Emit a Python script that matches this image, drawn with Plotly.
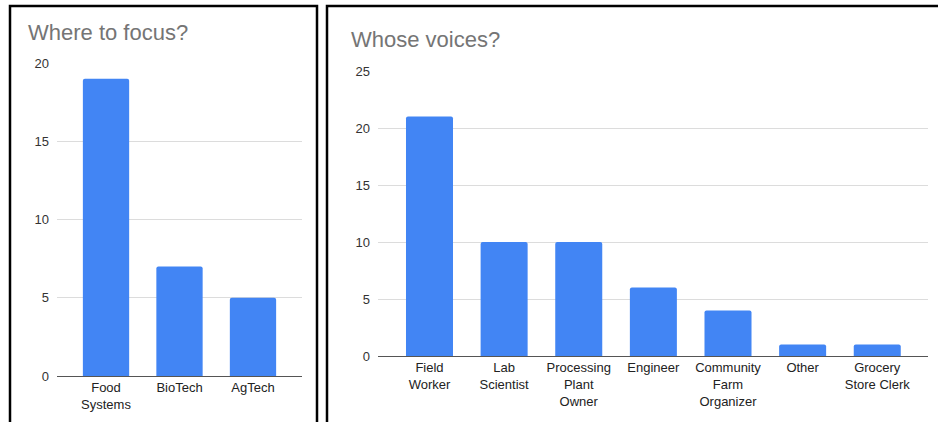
import plotly.graph_objects as go

W, H = 938, 422

focus_categories = ["Food<br>Systems", "BioTech", "AgTech"]
focus_values = [19, 7, 5]
focus_ticks = [0, 5, 10, 15, 20]

voice_categories = ["Field<br>Worker", "Lab<br>Scientist", "Processing<br>Plant<br>Owner",
                    "Engineer", "Community<br>Farm<br>Organizer", "Other",
                    "Grocery<br>Store Clerk"]
voice_values = [21, 10, 10, 6, 4, 1, 1]
voice_ticks = [0, 5, 10, 15, 20, 25]

BLUE = "#4285F4"

def px(x):
    return x / W

def py(y):
    return 1 - y / H

fig = go.Figure()
fig.add_trace(go.Bar(x=list(range(len(focus_values))), y=focus_values,
                     marker=dict(color=BLUE, cornerradius=2, line_width=0),
                     xaxis="x", yaxis="y", hoverinfo="skip"))
fig.add_trace(go.Bar(x=list(range(len(voice_values))), y=voice_values,
                     marker=dict(color=BLUE, cornerradius=2, line_width=0),
                     xaxis="x2", yaxis="y2", hoverinfo="skip"))

tickfont = dict(family="Liberation Sans, Arial, sans-serif", size=13, color="#222222")
yfont = dict(family="Liberation Sans, Arial, sans-serif", size=13, color="#333333")

common_x = dict(showgrid=False, showline=False, zeroline=False, ticks="",
                tickfont=tickfont, fixedrange=True, automargin=False)
common_y = dict(showgrid=True, gridcolor="#dcdcdc", gridwidth=1, zeroline=True,
                zerolinecolor="#555555", zerolinewidth=1.3, showline=False,
                ticks="", tickfont=yfont, fixedrange=True, ticklabelstandoff=7,
                automargin=False)

fig.update_layout(
    width=W, height=H,
    margin=dict(l=0, r=0, t=0, b=0, pad=0, autoexpand=False),
    paper_bgcolor="white", plot_bgcolor="white", showlegend=False,
    bargap=0.37,
    xaxis=dict(common_x, domain=[px(57), px(302)], range=[-0.667, 2.667],
               tickmode="array", tickvals=list(range(len(focus_categories))),
               ticktext=focus_categories, anchor="y", ticklabelstandoff=2),
    yaxis=dict(common_y, domain=[py(376), py(63)], range=[0, 20],
               tickmode="array", tickvals=focus_ticks, anchor="x"),
    xaxis2=dict(common_x, domain=[px(378), px(928)], range=[-0.69, 6.68],
                tickmode="array", tickvals=list(range(len(voice_categories))),
                ticktext=voice_categories, anchor="y2", ticklabelstandoff=2),
    yaxis2=dict(common_y, domain=[py(356), py(71)], range=[0, 25],
                tickmode="array", tickvals=voice_ticks, anchor="x2"),
)

title_font = dict(family="Liberation Sans, Arial, sans-serif", size=22, color="#757575")
fig.add_annotation(text="Where to focus?", xref="paper", yref="paper",
                   x=px(26), y=py(33), xanchor="left", yanchor="middle",
                   showarrow=False, font=title_font)
fig.add_annotation(text="Whose voices?", xref="paper", yref="paper",
                   x=px(349), y=py(40), xanchor="left", yanchor="middle",
                   showarrow=False, font=title_font)

# panel borders
fig.add_shape(type="rect", xref="paper", yref="paper",
              x0=px(10), x1=px(317), y0=py(6), y1=py(440),
              line=dict(color="black", width=2.5), fillcolor="rgba(0,0,0,0)")
fig.add_shape(type="rect", xref="paper", yref="paper",
              x0=px(327), x1=px(950), y0=py(6), y1=py(440),
              line=dict(color="black", width=2.5), fillcolor="rgba(0,0,0,0)")

fig.write_html("out.html")
